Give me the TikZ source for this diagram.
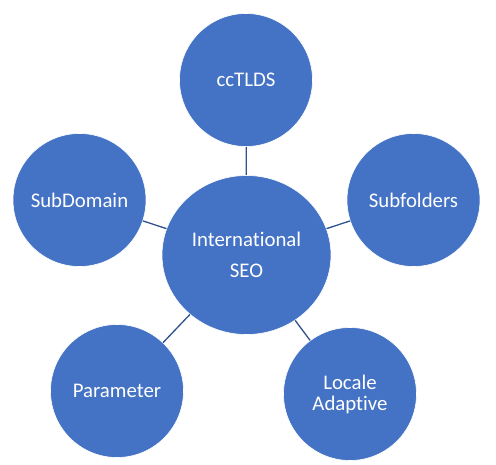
\documentclass[tikz,border=0pt]{standalone}
\usepackage{fontspec}
\setmainfont[RawFeature={-liga;-clig;-dlig}]{Carlito}
\usetikzlibrary{shapes.geometric}
\definecolor{bubble}{HTML}{4472C4}
\definecolor{linkc}{HTML}{2F528F}
\tikzset{
  bubblenode/.style={circle, fill=bubble, draw=white, line width=0.6pt, minimum size=133pt, inner sep=0pt, text=white, font=\fontsize{20.8}{21}\selectfont, align=center},
  hubnode/.style={ellipse, fill=bubble, draw=white, line width=0.6pt, minimum width=169pt, minimum height=159pt, inner sep=0pt, text=white, font=\fontsize{20.8}{31}\selectfont, align=center},
  linkline/.style={draw=linkc, line width=1.3pt}
}
\begin{document}
\begin{tikzpicture}[x=1pt,y=-1pt]
\useasboundingbox (0,0) rectangle (496,464);
\node[hubnode] (hub) at (246.5,255) {International\\SEO};
\node[bubblenode] (cc) at (246,80) {ccTLDS};
\node[bubblenode] (sd) at (79.5,200) {SubDomain};
\node[bubblenode] (sf) at (413.5,200) {Subfolders};
\node[bubblenode] (pm) at (117,391) {Parameter};
\node[bubblenode] (la) at (350,394) {Locale\\Adaptive};
\draw[linkline] (hub) -- (cc);
\draw[linkline] (hub) -- (sd);
\draw[linkline] (hub) -- (sf);
\draw[linkline] (hub) -- (pm);
\draw[linkline] (hub) -- (la);
\end{tikzpicture}
\end{document}
